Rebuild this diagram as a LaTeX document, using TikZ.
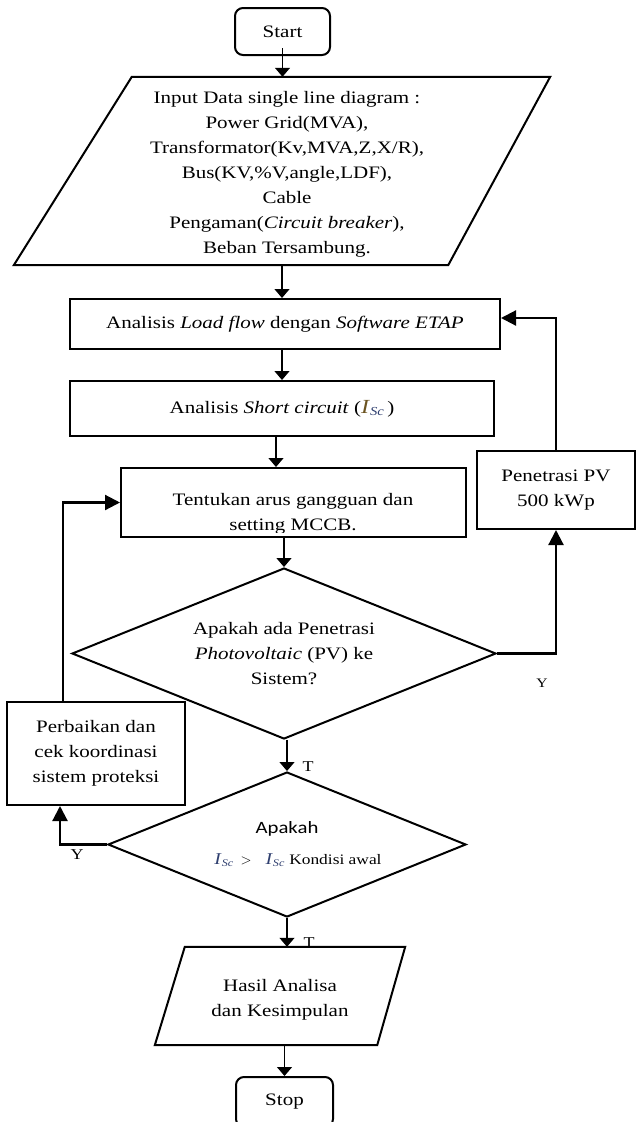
\documentclass[tikz,border=0pt]{standalone}
\usepackage{fontspec}
\setmainfont{Liberation Serif}[FakeStretch=1.2]
\newfontfamily\calib{Carlito}[FakeStretch=1.2]
\usetikzlibrary{arrows.meta,shapes.geometric}
\definecolor{navyc}{HTML}{2F3F6F}
\definecolor{ochrec}{HTML}{6B5320}
\begin{document}
\begin{tikzpicture}[x=1pt,y=-1pt,
  every node/.style={font=\fontsize{17.5}{25}\selectfont, inner sep=0pt},
  shapebox/.style={draw, line width=2pt, rectangle},
  shapedia/.style={draw, line width=2pt, diamond},
  conn/.style={line width=1.2pt, -{Triangle[length=9pt,width=15pt]}},
  thickconn/.style={line width=2.2pt, -{Triangle[length=15pt,width=15pt]}},
  lbl/.style={font=\fontsize{15}{18}\selectfont}
]
\useasboundingbox (0,0) rectangle (636,1122);

% Start
\node[shapebox, rounded corners=8pt, minimum width=95pt, minimum height=47pt] (start) at (282.5,31.5) {Start};

% Input parallelogram
\node[minimum width=536pt, minimum height=188pt] (inp) at (282,171) {};
\draw[line width=2pt] (inp.south west) -- ([xshift=118pt]inp.north west) -- (inp.north east) -- ([xshift=-102pt]inp.south east) -- cycle;
\begin{scope}
\clip (0,78) rectangle (636,256);
\node[align=center] (inptext) at (287,174) {Input Data single line diagram :\\
Power Grid(MVA),\\
Transformator(Kv,MVA,Z,X/R),\\
Bus(KV,\%V,angle,LDF),\\
Cable\\
Pengaman(\textit{Circuit breaker}),\\
Beban Tersambung.};
\end{scope}

% Boxes
\node[shapebox, minimum width=430pt, minimum height=50pt] (b1) at (285,324) {Analisis \textit{Load flow} dengan \textit{Software ETAP}};
\node[shapebox, minimum width=424pt, minimum height=55pt] (b2) at (282,408.5) {Analisis \textit{Short circuit} ({\fontsize{20}{22}\selectfont\textcolor{ochrec}{\textit{I}}}\textsubscript{\textcolor{navyc}{\textit{Sc}}}\,)};
\node[shapebox, minimum width=345pt, minimum height=69pt] (b3) at (293.5,502.5) {};
\begin{scope}
\clip (121,470) rectangle (466,532);
\node[align=center] (b3text) at (293,514) {Tentukan arus gangguan dan\\ setting MCCB.};
\end{scope}

% PV box
\node[shapebox, minimum width=158pt, minimum height=78pt, align=center] (pv) at (556,490) {Penetrasi PV\\ 500 kWp};

% Diamond 1
\node[shapedia, shape aspect=2.48, minimum width=424pt, minimum height=171pt, align=center] (d1) at (284,653.5) {Apakah ada Penetrasi\\ \textit{Photovoltaic} (PV) ke\\ Sistem?};

% Left box
\node[shapebox, minimum width=178pt, minimum height=103pt, align=center] (lb) at (96,753.5) {Perbaikan dan\\ cek koordinasi\\ sistem proteksi};

% Diamond 2
\node[shapedia, shape aspect=2.47, minimum width=358pt, minimum height=145pt] (d2) at (287,844.5) {};
\node[font=\calib\fontsize{17.3}{20}\selectfont] (d2a) at (287,829) {Apakah};
\node[font=\fontsize{14.5}{18}\selectfont] (d2b) at (298,860) {\textcolor{navyc}{{\fontsize{16.5}{18}\selectfont\textit{I}}\textsubscript{\textit{Sc}}} \,$>$\enspace\, \textcolor{navyc}{{\fontsize{16.5}{18}\selectfont\textit{I}}\textsubscript{\textit{Sc}}} Kondisi awal};

% Output parallelogram
\node[minimum width=250pt, minimum height=98pt] (p2) at (280,996) {};
\draw[line width=2pt] (p2.south west) -- ([xshift=30pt]p2.north west) -- (p2.north east) -- ([xshift=-28pt]p2.south east) -- cycle;
\node[align=center] (p2text) at (280,999.5) {Hasil Analisa\\ dan Kesimpulan};

% Stop
\node[shapebox, rounded corners=8pt, minimum width=97pt, minimum height=50pt] (stop) at (284.5,1102) {Stop};

% Thin connectors
\draw[conn] ([yshift=8pt]start.south) -- (start.south |- inp.north);
\draw[conn] (inp.south) -- (inp.south |- b1.north);
\draw[conn] (b2.north |- b1.south) -- (b2.north);
\draw[conn] ([xshift=-6pt]b2.south) -- ([xshift=-6pt]b2.south |- b3.north);
\draw[conn] (b3.south -| d1.north) -- (d1.north);
\draw[conn] (d2.north |- d1.south) -- (d2.north);
\draw[conn] (d2.south) -- (d2.south |- p2.north);
\draw[conn] (stop.north |- p2.south) -- (stop.north);

% Thick connectors
\draw[thickconn] (d1.east) -| (pv.south);
\draw[thickconn] (pv.north) |- ([yshift=6pt]b1.east);
\draw[thickconn] ([xshift=-33pt]lb.north) |- (b3.west);
\draw[thickconn] (d2.west) -| ([xshift=-36pt]lb.south);

% Labels
\node[lbl] (t1) at (308,767) {T};
\node[lbl] (t2) at (309,943) {T};
\node[lbl] (y1) at (77,855) {Y};
\node[font=\fontsize{13}{15}\selectfont] (y2) at (542,683) {Y};
\end{tikzpicture}
\end{document}
